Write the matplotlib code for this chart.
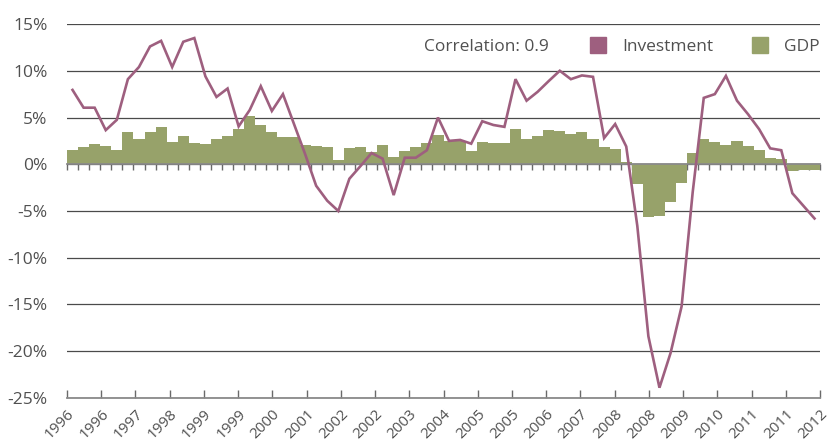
import matplotlib.pyplot as plt
import numpy as np
from matplotlib.lines import Line2D

# quarterly growth, 1996Q1 - 2012Q4 (percent)
gdp = [1.5, 1.8, 2.2, 1.9, 1.5, 3.4, 2.75, 3.5, 4.0, 2.4, 3.05, 2.3,
       2.2, 2.75, 3.05, 3.8, 5.2, 4.2, 3.45, 2.9, 2.9, 2.05, 1.95, 1.85,
       0.45, 1.75, 1.85, 1.3, 2.05, 0.75, 1.45, 1.85, 2.25, 3.1, 2.45, 2.45,
       1.45, 2.35, 2.3, 2.3, 3.8, 2.75, 3.05, 3.7, 3.6, 3.2, 3.4, 2.75,
       1.8, 1.6, 0.2, -2.1, -5.6, -5.5, -4.0, -2.0, 1.2, 2.65, 2.35, 2.1,
       2.45, 1.9, 1.5, 0.65, 0.55, -0.7, -0.6, -0.6]
investment = [7.95, 6.05, 6.05, 3.65, 4.75, 9.1, 10.4, 12.6, 13.2, 10.4, 13.1, 13.5,
              9.4, 7.2, 8.1, 4.05, 5.8, 8.35, 5.7, 7.5, 4.3, 1.1, -2.3, -3.9,
              -5.0, -1.55, -0.2, 1.2, 0.6, -3.3, 0.7, 0.7, 1.5, 5.0, 2.5, 2.6,
              2.2, 4.6, 4.2, 4.0, 9.1, 6.8, 7.75, 8.9, 10.0, 9.1, 9.5, 9.35,
              2.8, 4.3, 1.9, -6.6, -18.4, -23.9, -20.2, -15.2, -3.0, 7.1, 7.5, 9.45,
              6.8, 5.35, 3.75, 1.7, 1.5, -3.1, -4.45, -5.8]
year_labels = ['1996', '1996', '1997', '1998', '1999', '1999', '2000', '2001',
               '2002', '2002', '2003', '2004', '2005', '2005', '2006', '2007',
               '2008', '2008', '2009', '2010', '2011', '2011', '2012']
correlation = 0.9

inv_color = '#9e5f7f'
gdp_color = '#97a26a'
text_color = '#505050'

plt.rcParams['font.family'] = ['Open Sans', 'DejaVu Sans']

fig = plt.figure(figsize=(8.3, 4.43), dpi=100)
ax = fig.add_axes([0.0807, 0.1016, 0.9073, 0.8442])

x = np.arange(len(gdp))
ax.bar(x, gdp, width=1.0, color=gdp_color, zorder=1)
ax.plot(x, investment, color=inv_color, lw=1.9, zorder=3, solid_joinstyle='miter')

ax.set_xlim(-0.5, len(gdp) - 0.5)
ax.set_ylim(-25, 15)

# y axis: gridlines only, no spine
ax.set_axisbelow(True)
ax.set_yticks(np.arange(-25, 16, 5))
ax.set_yticklabels([str(v) + '%' for v in range(-25, 16, 5)])
ax.yaxis.grid(True, color='#4a4a4a', lw=0.9)
ax.tick_params(axis='y', length=0, pad=14, labelsize=12.5, labelcolor=text_color)
ax.spines['left'].set_visible(False)
ax.spines['right'].set_visible(False)

# bottom axis with year labels, top spine moved to zero with quarter ticks
ax.spines['bottom'].set_color('#8a8a8a')
ax.spines['bottom'].set_linewidth(1.3)
ax.spines['top'].set_position(('data', 0))
ax.spines['top'].set_color('#8a8a8a')
ax.spines['top'].set_linewidth(1.3)

ax.xaxis.remove_overlapping_locs = False
ax.set_xticks(np.linspace(-0.5, len(gdp) - 0.5, len(year_labels)))
ax.set_xticklabels(year_labels, rotation=45, ha='right', va='top',
                   rotation_mode='anchor')
ax.set_xticks(np.arange(len(gdp) + 1) - 0.5, minor=True)
ax.tick_params(axis='x', which='major', bottom=True, top=False, direction='in',
               length=6, width=1, color='#6a6a6a', labelsize=11,
               labelcolor=text_color, pad=6)
ax.tick_params(axis='x', which='minor', bottom=False, top=True, direction='in',
               length=4, width=1, color='#6a6a6a')

# legend
ax.text(0.4746, 0.938, 'Correlation: ' + str(correlation), transform=ax.transAxes,
        ha='left', va='center', fontsize=12.5, color=text_color)
handles = [Line2D([], [], ls='none', marker='s', markersize=11,
                  markerfacecolor=inv_color, markeredgecolor=inv_color),
           Line2D([], [], ls='none', marker='s', markersize=11,
                  markerfacecolor=gdp_color, markeredgecolor=gdp_color)]
leg = ax.legend(handles, ['Investment', 'GDP'], ncol=2, frameon=False,
                loc='center right', bbox_to_anchor=(1.0, 0.938),
                borderaxespad=0, borderpad=0, handlelength=1.0,
                handletextpad=0.9, columnspacing=2.2, fontsize=12.5)
for t in leg.get_texts():
    t.set_color(text_color)

fig.savefig('out.png', dpi=100)
